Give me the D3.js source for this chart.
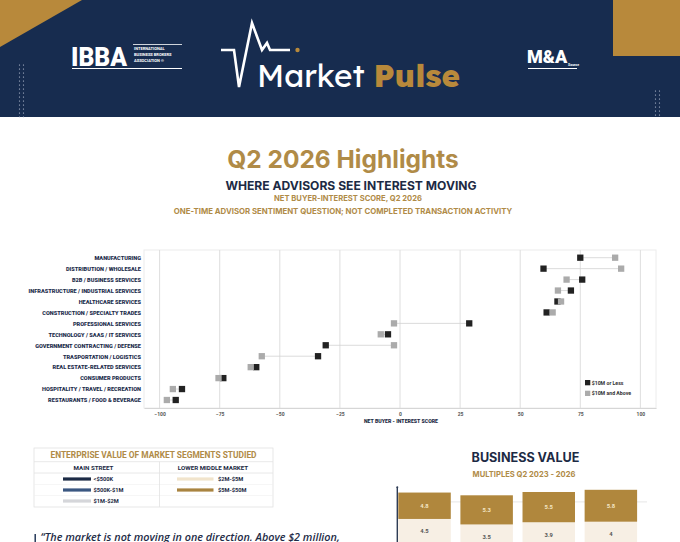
<!DOCTYPE html>
<html>
<head>
<meta charset="utf-8">
<script src="https://cdn.jsdelivr.net/npm/d3@7"></script>
<style>
  html, body { margin: 0; padding: 0; background: #ffffff; }
  svg { display: block; }
</style>
</head>
<body>
<svg id="chart" width="680" height="542"></svg>
<script>
// ---------------- DATA ----------------
const categories = [
  "MANUFACTURING",
  "DISTRIBUTION / WHOLESALE",
  "B2B / BUSINESS SERVICES",
  "INFRASTRUCTURE / INDUSTRIAL SERVICES",
  "HEALTHCARE SERVICES",
  "CONSTRUCTION / SPECIALTY TRADES",
  "PROFESSIONAL SERVICES",
  "TECHNOLOGY / SAAS / IT SERVICES",
  "GOVERNMENT CONTRACTING / DEFENSE",
  "TRASPORTATION / LOGISTICS",
  "REAL ESTATE-RELATED SERVICES",
  "CONSUMER PRODUCTS",
  "HOSPITALITY / TRAVEL / RECREATION",
  "RESTAURANTS / FOOD & BEVERAGE"
];
const tenMOrLess  = [75, 59.7, 75.8, 71.1, 65.5, 61, 28.8, -5, -30.9, -34.1, -59.8, -73.5, -90.7, -93.3];
const tenMAndAbove = [89.5, 92, 69.3, 65.7, 67, 63.5, -2.5, -8, -2.5, -57.5, -62.1, -75.5, -94.5, -97];
const xTicks = [-100, -75, -50, -25, 0, 25, 50, 75, 100];
const seriesNames = ["$10M or Less", "$10M and Above"];

const segmentHeaders = ["MAIN STREET", "LOWER MIDDLE MARKET"];
const mainStreetSegments = ["<$500K", "$500K-$1M", "$1M-$2M"];
const lowerMiddleSegments = ["$2M-$5M", "$5M-$50M"];

const years = ["2023", "2024", "2025", "2026"];
const mainStreetMultiples = [4.5, 3.5, 3.9, 4];
const lowerMiddleMultiples = [4.8, 5.3, 5.5, 5.8];
const barGridValues = [7.6];

// ---------------- STYLE ----------------
const NAVY = "#172c4f";
const GOLD = "#b8893b";
const TITLE_GOLD = "#b08b47";
const DARK = "#222222";
const LIGHT = "#ababab";

const svg = d3.select("#chart");

// ---------------- HEADER ----------------
const header = svg.append("g");
header.append("rect").attr("x", 0).attr("y", 0).attr("width", 680).attr("height", 117).attr("fill", NAVY);
header.append("path").attr("d", "M0,0 L82,0 L0,47 Z").attr("fill", GOLD);
header.append("rect").attr("x", 613).attr("y", 0).attr("width", 67).attr("height", 56).attr("fill", GOLD);

// decorative dot columns
function dots(x0, cols, y0, y1) {
  for (let c = 0; c < cols; c++) {
    for (let y = y0; y <= y1; y += 4) {
      header.append("circle").attr("cx", x0 + c * 4).attr("cy", y).attr("r", 0.6).attr("fill", "#c9d1e0");
    }
  }
}
dots(19.5, 2, 65, 117);
dots(655.5, 2, 91, 117);

// IBBA logo
header.append("text").attr("x", 71).attr("y", 66).attr("fill", "#fff")
  .attr("font-family", "Roboto, Arial, sans-serif").attr("font-weight", 900)
  .attr("font-size", 26).attr("textLength", 56).attr("lengthAdjust", "spacingAndGlyphs").text("IBBA");
header.append("line").attr("x1", 133).attr("x2", 182).attr("y1", 44.5).attr("y2", 44.5).attr("stroke", "#fff").attr("stroke-width", 0.8);
header.append("line").attr("x1", 72).attr("x2", 182).attr("y1", 68.5).attr("y2", 68.5).attr("stroke", "#fff").attr("stroke-width", 1.2);
["INTERNATIONAL", "BUSINESS BROKERS", "ASSOCIATION ®"].forEach((t, i) => {
  header.append("text").attr("x", 134).attr("y", 50 + i * 6).attr("fill", "#fff")
    .attr("font-family", "Roboto, Arial, sans-serif").attr("font-weight", 700)
    .attr("font-size", 4).text(t);
});

// Pulse icon
header.append("path")
  .attr("d", "M221,50 L234,50 L239,87 L252,23 L262,50 L267,43 L270,50 L290,50")
  .attr("fill", "none").attr("stroke", "#fff").attr("stroke-width", 2.6)
  .attr("stroke-linejoin", "miter").attr("stroke-linecap", "butt");
header.append("circle").attr("cx", 297.5).attr("cy", 50).attr("r", 2.2).attr("fill", GOLD);

const mp = header.append("text").attr("x", 257).attr("y", 87)
  .attr("font-family", "Lexend, Inter, 'Open Sans', sans-serif").attr("font-size", 31.5);
mp.append("tspan").attr("fill", "#fff").attr("font-weight", 400).text("Market ");
mp.append("tspan").attr("fill", GOLD).attr("font-weight", 800).text("Pulse");

// M&A logo
header.append("text").attr("x", 527).attr("y", 63).attr("fill", "#fff")
  .attr("font-family", "Roboto, Arial, sans-serif").attr("font-weight", 900)
  .attr("font-size", 18).text("M&A");
header.append("text").attr("x", 568).attr("y", 66).attr("fill", "#fff")
  .attr("font-family", "Roboto, sans-serif").attr("font-weight", 700).attr("font-size", 3.5).text("Source");
header.append("line").attr("x1", 528).attr("x2", 577).attr("y1", 68.5).attr("y2", 68.5).attr("stroke", "#fff").attr("stroke-width", 1);

// ---------------- TITLES ----------------
svg.append("text").attr("x", 343).attr("y", 168).attr("text-anchor", "middle")
  .attr("font-family", "Inter, sans-serif").attr("font-weight", 700).attr("font-size", 24.5)
  .attr("fill", TITLE_GOLD).text("Q2 2026 Highlights");
svg.append("text").attr("x", 351).attr("y", 190).attr("text-anchor", "middle")
  .attr("font-family", "Inter, sans-serif").attr("font-weight", 700).attr("font-size", 12.1)
  .attr("fill", "#1c2a44").text("WHERE ADVISORS SEE INTEREST MOVING");
svg.append("text").attr("x", 348).attr("y", 200.5).attr("text-anchor", "middle")
  .attr("font-family", "Inter, sans-serif").attr("font-weight", 700).attr("font-size", 7.6)
  .attr("fill", TITLE_GOLD).text("NET BUYER-INTEREST SCORE, Q2 2026");
svg.append("text").attr("x", 343).attr("y", 213.5).attr("text-anchor", "middle")
  .attr("font-family", "Inter, sans-serif").attr("font-weight", 700).attr("font-size", 7.8)
  .attr("fill", TITLE_GOLD).text("ONE-TIME ADVISOR SENTIMENT QUESTION; NOT COMPLETED TRANSACTION ACTIVITY");

// ---------------- DUMBBELL CHART ----------------
const plotL = 144, plotR = 656, plotT = 250, plotB = 408;
const x = d3.scaleLinear().domain([-106.5, 106.5]).range([plotL, plotR]);
const y = d3.scalePoint().domain(categories).range([257.7, 400]);

const chart = svg.append("g");
chart.append("rect").attr("x", plotL).attr("y", plotT).attr("width", plotR - plotL).attr("height", plotB - plotT)
  .attr("fill", "#fff").attr("stroke", "#ececec").attr("stroke-width", 1);

chart.append("g").selectAll("line").data(xTicks).join("line")
  .attr("x1", d => x(d)).attr("x2", d => x(d)).attr("y1", plotT).attr("y2", plotB)
  .attr("stroke", "#dedede").attr("stroke-width", 1);

const xAxis = chart.append("g").attr("transform", `translate(0,${plotB})`)
  .call(d3.axisBottom(x).tickValues(xTicks).tickSize(0).tickPadding(4).tickFormat(d3.format("d")));
xAxis.select(".domain").attr("stroke", "#d6d6d6");
xAxis.selectAll("text").attr("font-family", "Roboto, sans-serif").attr("font-size", 5).attr("font-weight", 700).attr("fill", "#555");

chart.append("text").attr("x", 401).attr("y", 422.5).attr("text-anchor", "middle")
  .attr("font-family", "Roboto, sans-serif").attr("font-weight", 900).attr("font-size", 5.2)
  .attr("fill", "#1c2a44").text("NET BUYER - INTEREST SCORE");

const yAxis = chart.append("g").attr("transform", `translate(${plotL - 3},0)`)
  .call(d3.axisLeft(y).tickSize(0).tickPadding(0));
yAxis.select(".domain").remove();
yAxis.selectAll("text").attr("font-family", "Roboto, sans-serif").attr("font-size", 5.6)
  .attr("font-weight", 900).attr("fill", "#1d2d4c");

const rows = categories.map((c, i) => ({ c, a: tenMOrLess[i], b: tenMAndAbove[i] }));
chart.append("g").selectAll("line").data(rows).join("line")
  .attr("x1", d => x(d.a)).attr("x2", d => x(d.b)).attr("y1", d => y(d.c)).attr("y2", d => y(d.c))
  .attr("stroke", "#d2d2d2").attr("stroke-width", 0.8);

const S = 6.3;
chart.append("g").selectAll("rect").data(rows).join("rect")
  .attr("x", d => x(d.a) - S / 2).attr("y", d => y(d.c) - S / 2).attr("width", S).attr("height", S)
  .attr("fill", DARK);
chart.append("g").selectAll("rect").data(rows).join("rect")
  .attr("x", d => x(d.b) - S / 2).attr("y", d => y(d.c) - S / 2).attr("width", S).attr("height", S)
  .attr("fill", LIGHT);

// legend
const leg = chart.append("g").attr("transform", "translate(585,380)");
[DARK, LIGHT].forEach((col, i) => {
  leg.append("rect").attr("x", 0).attr("y", i * 10.7).attr("width", 5.3).attr("height", 5.3).attr("fill", col);
  leg.append("text").attr("x", 6.7).attr("y", i * 10.7 + 4.6)
    .attr("font-family", "Roboto, sans-serif").attr("font-size", 5.2).attr("font-weight", 700)
    .attr("fill", "#333").text(seriesNames[i]);
});

// ---------------- SEGMENT TABLE ----------------
const tbl = svg.append("g");
const tL = 34, tR = 273, tT = 448, tB = 507, tMid = 159.5;
tbl.append("rect").attr("x", tL).attr("y", tT).attr("width", tR - tL).attr("height", tB - tT)
  .attr("fill", "#fff").attr("stroke", "#e2e2e2").attr("stroke-width", 0.8);
[461.7, 473].forEach(yy => tbl.append("line").attr("x1", tL).attr("x2", tR).attr("y1", yy).attr("y2", yy)
  .attr("stroke", "#e2e2e2").attr("stroke-width", 0.8));
[484.5, 495.5].forEach(yy => tbl.append("line").attr("x1", tL).attr("x2", tR).attr("y1", yy).attr("y2", yy)
  .attr("stroke", "#f0f0f0").attr("stroke-width", 0.6));
tbl.append("line").attr("x1", tMid).attr("x2", tMid).attr("y1", 461.7).attr("y2", tB)
  .attr("stroke", "#e2e2e2").attr("stroke-width", 0.8);
tbl.append("text").attr("x", 153.5).attr("y", 458.2).attr("text-anchor", "middle")
  .attr("font-family", "Roboto, sans-serif").attr("font-weight", 700).attr("font-size", 8.4)
  .attr("fill", TITLE_GOLD).text("ENTERPRISE VALUE OF MARKET SEGMENTS STUDIED");
[93.5, 213].forEach((cx, i) => tbl.append("text").attr("x", cx).attr("y", 470).attr("text-anchor", "middle")
  .attr("font-family", "Roboto, sans-serif").attr("font-weight", 700).attr("font-size", 6.2)
  .attr("fill", "#1c2a44").text(segmentHeaders[i]));

const msColors = ["#1b2a45", "#3a5781", "#d5d6da"];
const lmColors = ["#f1e4cc", "#a98440"];
const rowYs = d3.scalePoint().domain([0, 1, 2]).range([479, 501]);
mainStreetSegments.forEach((t, i) => {
  tbl.append("rect").attr("x", 63).attr("y", rowYs(i) - 1.6).attr("width", 28).attr("height", 3.2).attr("fill", msColors[i]);
  tbl.append("text").attr("x", 93.5).attr("y", rowYs(i) + 2).attr("font-family", "Roboto, sans-serif")
    .attr("font-weight", 700).attr("font-size", 5.7).attr("fill", "#1c2a44").text(t);
});
lowerMiddleSegments.forEach((t, i) => {
  tbl.append("rect").attr("x", 177).attr("y", rowYs(i) - 1.6).attr("width", 36.5).attr("height", 3.2).attr("fill", lmColors[i]);
  tbl.append("text").attr("x", 218).attr("y", rowYs(i) + 2).attr("font-family", "Roboto, sans-serif")
    .attr("font-weight", 700).attr("font-size", 5.7).attr("fill", "#1c2a44").text(t);
});

// ---------------- BUSINESS VALUE BARS ----------------
const bv = svg.append("g");
bv.append("text").attr("x", 525.5).attr("y", 461.5).attr("text-anchor", "middle")
  .attr("font-family", "Inter, sans-serif").attr("font-weight", 700).attr("font-size", 12.6)
  .attr("fill", "#1c2a44").text("BUSINESS VALUE");
bv.append("text").attr("x", 524).attr("y", 476.5).attr("text-anchor", "middle")
  .attr("font-family", "Inter, sans-serif").attr("font-weight", 700).attr("font-size", 7.6)
  .attr("fill", TITLE_GOLD).text("MULTIPLES Q2 2023 - 2026");

const bx = d3.scaleBand().domain(years).range([397.3, 638.1]).paddingInner(0.155).paddingOuter(0.016);
const by = d3.scaleLinear().domain([0, 10]).range([543.7, 488.7]);

bv.selectAll("line.grid").data(barGridValues).join("line").attr("class", "grid")
  .attr("x1", 397).attr("x2", 647).attr("y1", d => by(d)).attr("y2", d => by(d))
  .attr("stroke", "#e6e6e6").attr("stroke-width", 1);

const bars = years.map((yr, i) => ({ yr, ms: mainStreetMultiples[i], lm: lowerMiddleMultiples[i] }));
bv.append("g").selectAll("rect").data(bars).join("rect")
  .attr("x", d => bx(d.yr)).attr("width", bx.bandwidth())
  .attr("y", d => by(d.ms)).attr("height", d => by(0) - by(d.ms)).attr("fill", "#f7efe4");
bv.append("g").selectAll("rect").data(bars).join("rect")
  .attr("x", d => bx(d.yr)).attr("width", bx.bandwidth())
  .attr("y", d => by(d.ms + d.lm)).attr("height", d => by(d.ms) - by(d.ms + d.lm)).attr("fill", "#b0873d");
bv.append("g").selectAll("text").data(bars).join("text")
  .attr("x", d => bx(d.yr) + bx.bandwidth() / 2).attr("y", d => (by(d.ms + d.lm) + by(d.ms)) / 2 + 2)
  .attr("text-anchor", "middle").attr("font-family", "Roboto, sans-serif").attr("font-weight", 700)
  .attr("font-size", 5.8).attr("fill", "#f4e6c6").text(d => d.lm);
bv.append("g").selectAll("text").data(bars).join("text")
  .attr("x", d => bx(d.yr) + bx.bandwidth() / 2).attr("y", d => by(d.ms) + 14.3)
  .attr("text-anchor", "middle").attr("font-family", "Roboto, sans-serif").attr("font-weight", 700)
  .attr("font-size", 5.8).attr("fill", "#555").text(d => d.ms);

bv.append("line").attr("x1", 397.3).attr("x2", 397.3).attr("y1", 487).attr("y2", 542)
  .attr("stroke", "#2e3c55").attr("stroke-width", 1.4);
bv.append("circle").attr("cx", 397.3).attr("cy", 487.3).attr("r", 1).attr("fill", "#2e3c55");

// ---------------- QUOTE ----------------
svg.append("rect").attr("x", 34.5).attr("y", 534).attr("width", 1.4).attr("height", 8).attr("fill", NAVY);
svg.append("text").attr("x", 40.5).attr("y", 540.5)
  .attr("font-family", "'Open Sans', sans-serif").attr("font-style", "italic").attr("font-weight", 600)
  .attr("font-size", 10.8).attr("fill", "#1e2c47")
  .text("\u201CThe market is not moving in one direction. Above $2 million,");
</script>
</body>
</html>
